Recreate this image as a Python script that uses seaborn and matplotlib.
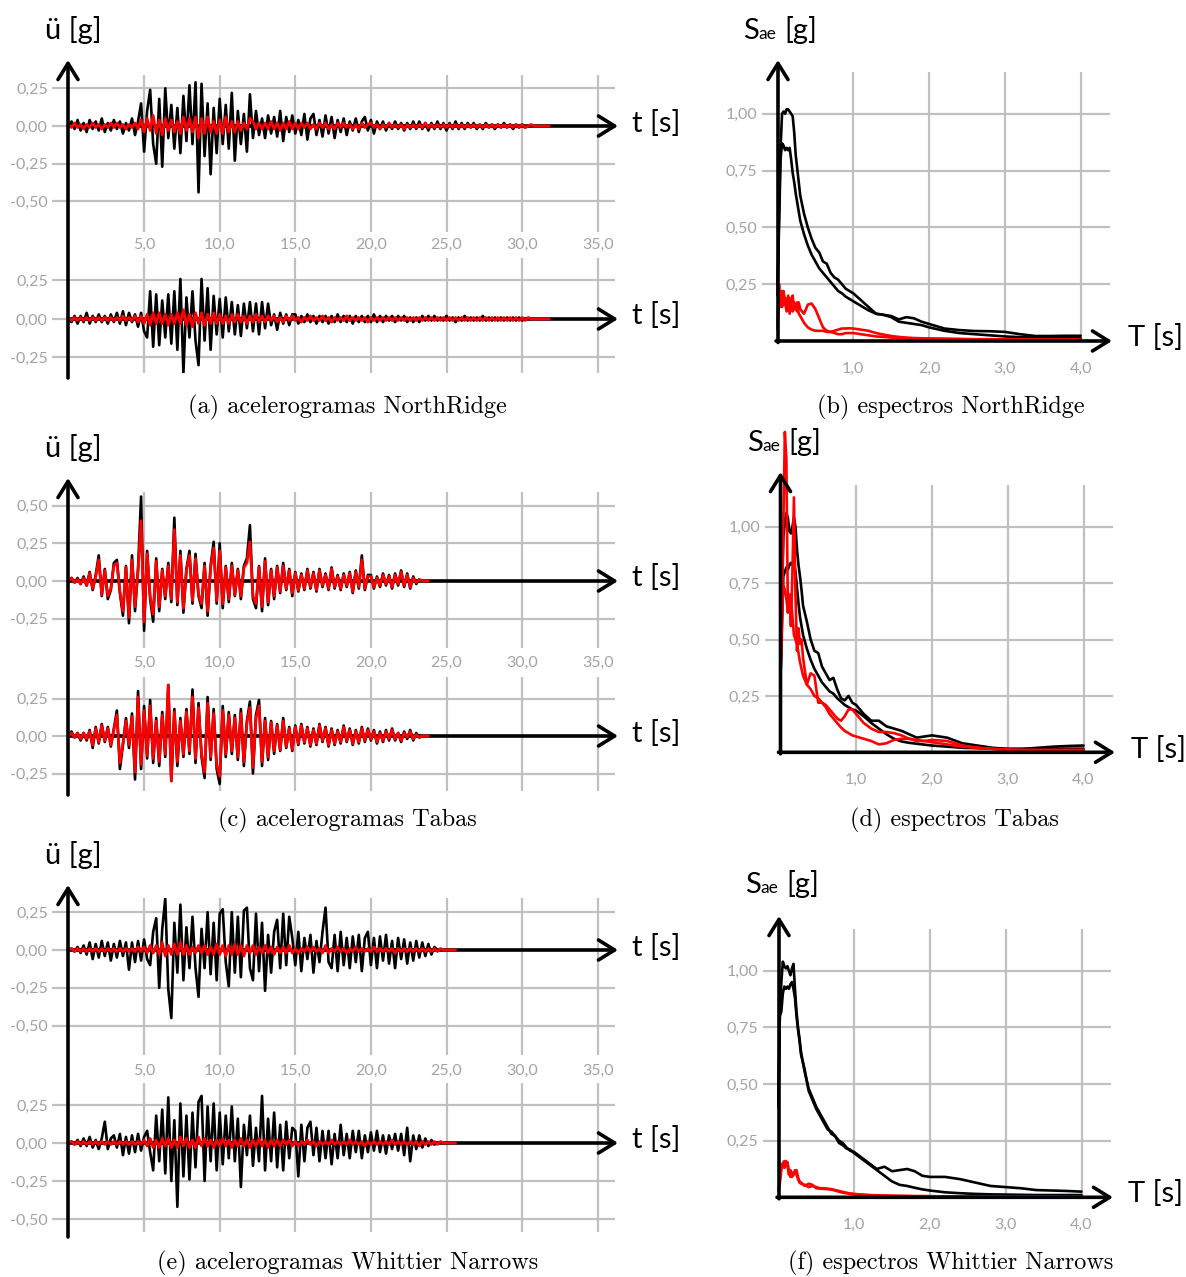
import numpy as np
import matplotlib
matplotlib.use("Agg")
import matplotlib.pyplot as plt
import seaborn as sns

W, H = 1186, 1277
DT = 0.2  # sampling step of the stored accelerograms [s]

# ---------------- accelerograms, values in 0.01 g ----------------
# NorthRidge, component 1 (recorded = black, simulated = red)
nr1_rec = [0, 3, -2, 4, -3, 2, -4, 4, -2, 3, -3, 5, -4, 2, -3, 4, -2, 3, -5, 2, -3, 5, -6, 3, 15,
           -17, 10, 24, -12, -25, 18, -27, 25, -8, 14, -15, 12, -18, 20, -10, 27, -12, 29, -44, 28,
           -20, 15, -32, 12, -18,
           18, -12, 14, -15, 22, -23, 10, -12, 8, -17, 21, -8, 10, -6, 5, -8, 7, -5, 6, -7, 10, -10, 6, -4, 7,
           -5, 4, -6, 8, -9, 5, 8, -6, 4, -7, 7, -5, 6, -8, 4, -4, 5, -6, 3, -3, 5, -4, 3, 6, -3,
           4, -5, 3, -2, 3, -3, 2, -2, 3, -2, 2, -3, 2, -2, 3, -2, 3, -2, 2, -3, 2, -2, 3, -2, 2,
           -3, 2, -2, 3, -2, 2, -2, 2, -1, 2, -2, 1, -2, 2, -1, 1, -2, 1, -1, 2, -1, 1, -2, 1, -1,
           1, -1, 0]
nr1_sim = [1, -1, 2, -1, 1, -2, 1, -1, 2, -1, 1, -2, 1, -1, 2, -1, 2, -1, 1, -2, 1, -1, 2, -2, 4,
           -4, 5, -3, 7, -5, 4, -6, 5, -3, 4, -4, 3, -5, 6, -3, 5, -4, 6, -8, 5, -5, 6, -4, 3, -5,
           4, -5, 6, -4, 3, -4, 3, -3, 2, -2, 5, 3, -2, 2, -2, 2, -2, 3, -2, 2, -3, 2, -2, 3, -2,
           2, -2, 2, -1, 2, -2, 1, -2, 2, -1, 2, -2, 1, -2, 2, -1, 2, -1, 1, -2, 1, -2, 2, -1, 1,
           2, -1, 1, -2, 1, -1, 2, -1, 1, -1, 1, -2, 1, -1, 1, -1, 1, -1, 2, -1, 1, -1, 1, -1, 1,
           -1, 1, -1, 1, -1, 1, -1, 1, -1, 1, -1, 1, -1, 1, -1, 1, -1, 1, -1, 1, -1, 1, -1, 1, -1,
           1, -1, 0, 1, 0, 0, 0, 0, 0, 0]
# NorthRidge, component 2
nr2_rec = [0, -2, 2, -3, 2, -2, 4, -3, 2, -2, 3, -2, 2, -3, 3, -2, 4, -3, 5, -4, 4, -2, 3, -5, 4,
           -8, -12, 18, -18, 16, -17, 12, -12, 16, -16, 18, -20, 26, -35, 14, -12, 18, -14, -30, 26,
           -14, 20, -20, 15, -10,
           13, -12, 14, -8, 11, -10, 9, -11, 10, -6, 11, -8, 10, -10, 11, -6, 10, -4, 3, -7, 4, -3, 3, -4, 3,
           3, -3, 2, -2, 3, -2, 2, -3, 2, -2, 2, -3, 2, -2, 3, -2, 2, -2, 2, -3, 2, -2, 2, -2, 2,
           -2, 3, -2, 2, -2, 2, -1, 2, -2, 2, -1, 2, -2, 1, -2, 1, -2, 2, -1, 2, -1, 2, -1, 1, -1,
           2, -1, 1, -2, 1, -1, 2, -1, 1, -1, 1, -1, 2, -1, 1, -1, 1, -1, 1, -1, 1, -1, 1, -1, 1,
           -1, 0]
nr2_sim = [1, -1, 1, -1, 1, -1, 1, -1, 1, -1, 1, -1, 1, -1, 1, -1, 1, -1, 2, -1, 1, -1, 2, -2, 2,
           -3, 3, -4, 4, -3, 4, -3, 3, -4, 3, -3, 4, -3, 6, -4, 3, -5, 4, -3, 4, -4, 3, -3, 4, -3,
           3, -3, 2, -3, 3, -2, 3, -2, 2, -3, 2, -2, 3, -2, 2, -2, 2, -1, 2, -2, 1, -2, 2, -1, 2,
           -1, 1, -2, 1, -1, 2, -1, 1, -1, 2, -1, 1, -2, 1, -1, 1, -1, 2, -1, 1, -1, 1, -1, 1, -2,
           1, -1, 1, -1, 1, -1, 1, -1, 1, -1, 1, -1, 1, -1, 1, -1, 1, -1, 1, -1, 1, -1, 1, -1, 1,
           -1, 1, -1, 1, -1, 1, -1, 1, -1, 1, -1, 1, -1, 1, -1, 1, -1, 1, -1, 1, -1, 1, -1, 1, -1,
           1, -1, 1, 0, 0, 0, 0, 0, 0, 0]

# Tabas
tb1_rec = [0, 2, -1, 2, -2, 3, -3, 6, -6, 4, 17, -10, 8, -12, -6, 12, 14, -8, -23, 10, -28, 17, -20, 8, 56,
           -33, 20, -12, -27, 15, -20, 8, -12, 12, -14, 42, -16, 20, -21, 8, 20, -15, 18, -10, -18,
           12, -23, 10, 26, -15,
           25, -18, 10, -14, 12, -10, 8, -12, 10, 15, 37, -12, -18, 10, -20, 15, -16, 8, -12, 10,
           -8, 12, -6, 8, -10,
           6, -7, 5, -6, 8, -5, 6, -7, 8, -4, 5, -6, 9, -5, 4, -6, 5, -4, 6, -8, 7, -5, 17, -6, 4,
           4, -5, 3, -4, 5, -3, 4, -5, 5, -3, 7, -4, 5, -5, 3, -2, 1, 0]
tb1_sim = [0, 2, -1, 1, -2, 2, -3, 5, -5, 3, 14, -9, 7, -10, -5, 10, 12, -7, -20, 9, -24, 14, -17, 7, 40,
           -27, 18, -10, -22, 13, -17, 7, -10, 10, -12, 34, -14, 17, -18, 7, 17, -13, 15, -9, -15,
           10, -20, 9, 22, -13,
           20, -15, 9, -12, 10, -9, 7, -10, 9, 12, 26, -10, -15, 9, -17, 13, -14, 7, -10, 9,
           -7, 10, -5, 7, -8,
           5, -6, 4, -5, 7, -4, 5, -6, 7, -3, 4, -5, 8, -4, 3, -5, 4, -3, 5, -7, 6, -4, 14, -5, 3,
           3, -4, 2, -3, 4, -2, 3, -4, 4, -2, 6, -3, 4, -4, 2, -1, 1, 0, 0, 0]
tb2_rec = [0, 3, -1, 2, -3, 2, -3, 4, -8, 6, -5, 8, -4, 6, -7, 5, 17, -22, -6, 12, -8, 15, -29, 30, -22,
           20, -15, 24, -18, 12, -20, 16, -14, 34, -30, 18, -20, 12, -14, 18, -12, 31, -18, 22, -14,
           -28, 26, -16, 18, -22,
           -32, 20, -14, 16, -12, 14, -16, 18, -20, 10, 23, -25, 14, 24, -20, 12, -16, 10, -12, 8,
           -10, 12, -8, 6, -10,
           7, -6, 8, -5, 6, -7, 5, -6, 8, -4, 6, -7, 5, -6, 4, -5, 7, -4, 5, -6, 4, -5, 6, -4, 5,
           -3, 4, -5, 3, -4, 4, -3, 5, -3, 2, -4, 3, -2, 4, -3, 2, -1, 0]
tb2_sim = [0, 2, -1, 2, -2, 2, -2, 3, -6, 5, -4, 7, -3, 5, -6, 4, 14, -18, -5, 10, -6, 13, -24, 26, -19,
           17, -13, 20, -15, 10, -17, 14, -12, 34, -30, 16, -17, 10, -12, 16, -10, 26, -15, 19, -12,
           -24, 22, -14, 15, -19,
           -27, 17, -12, 14, -10, 12, -14, 15, -17, 9, 19, -21, 12, 20, -17, 10, -14, 9, -10, 7,
           -9, 10, -7, 5, -9,
           6, -5, 7, -4, 5, -6, 4, -5, 7, -3, 5, -6, 4, -5, 3, -4, 6, -3, 4, -5, 3, -4, 5, -3, 4,
           -2, 3, -4, 2, -3, 3, -2, 4, -2, 2, -3, 2, -1, 3, -2, 1, -1, 0, 0, 0]

# Whittier Narrows
wn1_rec = [0, 1, -1, 2, -2, 3, -3, 5, -6, 4, -5, 6, -4, 5, -7, 4, -5, 6, -4, 5, -13, 5, -8, 6, -7,
           7, -6, -10, 12, 21, -25, 14, 34, -26, -45, 18, -15, 30, -20, 15, -12, 22, -12, -31, 14,
           -12, 25, -16, 18, -20,
           24, 27, -8, -24, 25, -15, 22, -18, 26, 28, -12, -20, 24, -14, 18, -27, 10, -15, 12, 20,
           -12, 24, -10, 22, 8,
           -10, 12, -14, 8, -6, 10, -15, 6, -8, 12, 28, -8, -12, 10, -14, 12, -10, 8, -12, 9,
           -8, 10, -14, 8, 12,
           -10, 8, -12, 9, -7, 10, -9, 6, -12, 8, -6, 7, -9, 5, -7, 6, -5, 5, -4, 4, -3, 2, 0]
wn1_sim = [0, 1, -1, 1, -1, 1, -1, 1, -1, 1, -1, 1, -1, 1, -1, 1, -1, 1, -1, 1, -1, 1, -1, 2, -1,
           2, -2, 3, -2, 3, -3, 5, -4, 3, -3, 4, -3, 5, -3, 3, -3, 2, -2, 3, -2, 3, -3, 2, -3, 4,
           -3, 3, -4, 3, -3, 4, -3, 3, -4, 3, -2, 3, -3, 2, -2, 3, -2, 2, -3, 2, -2, 2, -2, 3, -2,
           1, -2, 1, -1, 2, -1, 2, -1, 1, -2, 3, -2, 1, -1, 2, -1, 1, -2, 1, -1, 2, -1, 1, -1, 1,
           -1, 2, -1, 1, -1, 1, -1, 1, -2, 1, -1, 1, -1, 1, -1, 1, -1, 1, -1, 1, -1, 1, -1, 1, 0,
           0, 0, 0, 0]
wn2_rec = [0, 1, -1, 2, -2, 3, -2, 4, -3, 2, -4, 3, 14, -4, 3, 5, -3, 6, -8, 4, -7, 5, -6, 6, -5,
           4, 8, -6, -18, 18, -12, 22, -20, 30, -25, 15, -42, 26, -22, 18, -24, 20, -16, 27, 31,
           -25, 24, -12, 26, -18,
           20, -14, 18, -10, 24, -12, 16, -29, 12, -8, 18, -15, 10, -12, 31, -18, 16, -12, 20, -16,
           12, -18, 14, -10, 10,
           8, -22, 12, -12, 10, 14, -8, 10, -12, 8, -10, 8, -14, 6, -10, 12, -8, 6, -10, 8,
           -6, 8, -10, 5, -6,
           7, -5, 8, -6, 5, -7, 5, -4, 6, -5, 6, -8, 10, -12, 5, -4, 5, -3, 3, -2, 2, -1, 0]
wn2_sim = [0, 1, -1, 1, -1, 1, -1, 1, -1, 1, -1, 1, -1, 1, -1, 1, -1, 1, -1, 1, -1, 1, -1, 1, -1,
           2, -2, 3, -3, 2, -3, 3, -2, 3, -3, 2, -3, 4, -2, 3, -3, 2, -3, 4, -2, 3, -2, 2, -3, 2,
           -2, 3, -2, 2, -3, 2, -2, 3, -2, 2, -3, 2, -2, 3, -2, 2, -3, 2, -2, 2, -2, 2, -1, 2, -2,
           1, -2, 1, -1, 2, -1, 1, -2, 1, -1, 1, -1, 2, -1, 1, -1, 1, -1, 2, -1, 1, -1, 1, -2, 1,
           -1, 1, -1, 1, -1, 1, -1, 2, -1, 1, -1, 1, -1, 1, -1, 1, -2, 1, -1, 1, -1, 1, -1, 1, 0,
           0, 0, 0, 0]

# ---------------- response spectra, Sae [g] ----------------
periods = [0, .02, .04, .06, .08, .10, .12, .14, .16, .18, .20, .22, .24, .26, .28, .30,
           .35, .40, .45, .50, .55, .60, .65, .70, .75, .80, .85, .90, .95, 1.0,
           1.1, 1.2, 1.3, 1.4, 1.5, 1.6, 1.7, 1.8, 1.9, 2.0,
           2.2, 2.4, 2.6, 2.8, 3.0, 3.2, 3.4, 3.6, 3.8, 4.0]

nr_sa_rec1 = [0.25, 0.55, 0.85, 1.00, 1.01, 1.00, 1.02, 1.02, 1.01, 1.00, 0.99, 0.92, 0.82, 0.76, 0.70, 0.64,
              0.56, 0.50, 0.45, 0.41, 0.39, 0.35, 0.34, 0.30, 0.28, 0.27, 0.25, 0.23, 0.22, 0.21,
              0.18, 0.15, 0.12, 0.115, 0.11, 0.095, 0.105, 0.10, 0.085, 0.075,
              0.055, 0.048, 0.044, 0.043, 0.040, 0.030, 0.022, 0.022, 0.023, 0.023]
nr_sa_rec2 = [0.20, 0.50, 0.80, 0.87, 0.86, 0.84, 0.85, 0.84, 0.85, 0.80, 0.74, 0.70, 0.65, 0.61, 0.57, 0.53,
              0.47, 0.42, 0.38, 0.35, 0.32, 0.30, 0.28, 0.26, 0.24, 0.22, 0.21, 0.195, 0.185, 0.175,
              0.155, 0.135, 0.12, 0.115, 0.105, 0.085, 0.08, 0.075, 0.07, 0.06,
              0.045, 0.035, 0.03, 0.025, 0.02, 0.017, 0.015, 0.013, 0.012, 0.012]
nr_sa_sim1 = [0.08, 0.25, 0.15, 0.22, 0.16, 0.19, 0.14, 0.20, 0.12, 0.18, 0.20, 0.14, 0.16, 0.17, 0.12, 0.11,
              0.08, 0.06, 0.05, 0.045, 0.045, 0.045, 0.04, 0.04, 0.035, 0.03, 0.03, 0.035, 0.035, 0.035,
              0.03, 0.025, 0.02, 0.018, 0.015, 0.013, 0.012, 0.011, 0.01, 0.01,
              0.009, 0.008, 0.007, 0.007, 0.006, 0.006, 0.005, 0.005, 0.005, 0.005]
nr_sa_sim2 = [0.05, 0.18, 0.20, 0.15, 0.22, 0.17, 0.13, 0.18, 0.19, 0.15, 0.13, 0.17, 0.14, 0.13, 0.17, 0.14,
              0.12, 0.16, 0.165, 0.14, 0.10, 0.06, 0.045, 0.04, 0.045, 0.05, 0.055, 0.055, 0.056, 0.055,
              0.05, 0.045, 0.035, 0.028, 0.022, 0.018, 0.015, 0.013, 0.012, 0.011,
              0.01, 0.009, 0.008, 0.008, 0.007, 0.007, 0.006, 0.006, 0.006, 0.006]

tb_sa_rec1 = [0.30, 0.70, 0.95, 1.02, 1.06, 1.04, 0.98, 0.97, 1.00, 1.04, 1.00, 0.90, 0.83, 0.78, 0.72, 0.65,
              0.58, 0.50, 0.45, 0.44, 0.38, 0.35, 0.32, 0.33, 0.28, 0.24, 0.23, 0.25, 0.22, 0.21,
              0.17, 0.14, 0.14, 0.115, 0.105, 0.095, 0.08, 0.065, 0.07, 0.075,
              0.065, 0.04, 0.03, 0.02, 0.015, 0.015, 0.02, 0.025, 0.028, 0.03]
tb_sa_rec2 = [0.30, 0.55, 0.78, 0.80, 0.82, 0.81, 0.83, 0.84, 0.83, 0.84, 0.80, 0.73, 0.66, 0.60, 0.56, 0.52,
              0.46, 0.41, 0.37, 0.34, 0.31, 0.29, 0.27, 0.26, 0.24, 0.225, 0.21, 0.20, 0.19, 0.185,
              0.16, 0.13, 0.105, 0.08, 0.06, 0.048, 0.042, 0.038, 0.034, 0.03,
              0.025, 0.02, 0.018, 0.016, 0.015, 0.015, 0.015, 0.016, 0.016, 0.016]
tb_sa_sim1 = [0.30, 0.50, 1.00, 1.42, 1.30, 0.62, 0.70, 0.56, 0.80, 1.13, 0.70, 0.45, 0.55, 0.48, 0.50, 0.42,
              0.30, 0.35, 0.34, 0.22, 0.22, 0.21, 0.19, 0.17, 0.15, 0.14, 0.16, 0.19, 0.19, 0.17,
              0.13, 0.105, 0.09, 0.09, 0.085, 0.075, 0.06, 0.05, 0.05, 0.055,
              0.05, 0.03, 0.02, 0.015, 0.012, 0.01, 0.01, 0.01, 0.01, 0.01]
tb_sa_sim2 = [0.30, 0.60, 0.74, 0.72, 0.68, 0.62, 0.66, 0.68, 0.60, 0.52, 0.50, 0.48, 0.44, 0.40, 0.37, 0.34,
              0.30, 0.28, 0.25, 0.24, 0.22, 0.20, 0.17, 0.15, 0.13, 0.11, 0.095, 0.085, 0.075, 0.07,
              0.06, 0.05, 0.035, 0.04, 0.055, 0.06, 0.06, 0.055, 0.05, 0.045,
              0.035, 0.025, 0.02, 0.015, 0.012, 0.01, 0.01, 0.01, 0.01, 0.01]

wn_sa_rec1 = [0.40, 0.80, 0.95, 1.04, 1.02, 1.01, 1.02, 1.00, 0.98, 1.01, 1.03, 0.92, 0.82, 0.75, 0.70, 0.64,
              0.55, 0.48, 0.44, 0.40, 0.37, 0.34, 0.31, 0.28, 0.27, 0.25, 0.24, 0.22, 0.205, 0.20,
              0.175, 0.15, 0.125, 0.135, 0.115, 0.12, 0.125, 0.115, 0.095, 0.09,
              0.09, 0.08, 0.065, 0.05, 0.045, 0.04, 0.032, 0.03, 0.028, 0.025]
wn_sa_rec2 = [0.40, 0.80, 0.82, 0.90, 0.93, 0.92, 0.93, 0.92, 0.94, 0.95, 0.92, 0.88, 0.80, 0.74, 0.69, 0.63,
              0.56, 0.47, 0.43, 0.39, 0.36, 0.33, 0.30, 0.29, 0.27, 0.24, 0.23, 0.215, 0.21, 0.195,
              0.17, 0.145, 0.12, 0.095, 0.07, 0.055, 0.05, 0.042, 0.035, 0.03,
              0.022, 0.018, 0.015, 0.013, 0.012, 0.011, 0.01, 0.01, 0.01, 0.01]
wn_sa_sim1 = [0.03, 0.08, 0.14, 0.15, 0.16, 0.14, 0.155, 0.12, 0.09, 0.11, 0.10, 0.11, 0.12, 0.09, 0.07, 0.065,
              0.05, 0.06, 0.055, 0.04, 0.038, 0.037, 0.036, 0.034, 0.03, 0.025, 0.02, 0.018, 0.015, 0.013,
              0.011, 0.009, 0.008, 0.007, 0.006, 0.006, 0.005, 0.005, 0.005, 0.004,
              0.004, 0.004, 0.003, 0.003, 0.003, 0.003, 0.003, 0.002, 0.002, 0.002]
wn_sa_sim2 = [0.03, 0.06, 0.12, 0.15, 0.13, 0.16, 0.14, 0.10, 0.12, 0.09, 0.10, 0.12, 0.10, 0.08, 0.065, 0.06,
              0.055, 0.045, 0.05, 0.045, 0.04, 0.04, 0.038, 0.036, 0.032, 0.028, 0.024, 0.02, 0.017, 0.015,
              0.012, 0.01, 0.009, 0.008, 0.007, 0.006, 0.006, 0.005, 0.005, 0.005,
              0.004, 0.004, 0.004, 0.003, 0.003, 0.003, 0.003, 0.003, 0.002, 0.002]

t_ticks = [5, 10, 15, 20, 25, 30, 35]
t_ticklabels = ["5,0", "10,0", "15,0", "20,0", "25,0", "30,0", "35,0"]
T_ticks = [1, 2, 3, 4]
T_ticklabels = ["1,0", "2,0", "3,0", "4,0"]
sa_ticks = [0.25, 0.50, 0.75, 1.00]
sa_ticklabels = ["0,25", "0,50", "0,75", "1,00"]
captions = ["(a) acelerogramas NorthRidge", "(b) espectros NorthRidge",
            "(c) acelerogramas Tabas", "(d) espectros Tabas",
            "(e) acelerogramas Whittier Narrows", "(f) espectros Whittier Narrows"]

# ---------------- style ----------------
sns.set_theme(style="white")
plt.rcParams["font.family"] = ["Lato", "DejaVu Sans"]
GRID = "#c0c0c0"
TICK = "#a3a3a3"
RED = "#ff0000"

fig = plt.figure(figsize=(W / 100, H / 100), dpi=100)
fig.patch.set_facecolor("white")


def px_axes(left, top, right, bottom):
    return fig.add_axes([left / W, 1 - bottom / H, (right - left) / W, (bottom - top) / H])


def style_axes(ax, xpad, ypad):
    for s in ax.spines.values():
        s.set_visible(False)
    ax.set_facecolor("none")
    ax.grid(True, color=GRID, lw=1.6)
    ax.set_axisbelow(True)
    ax.tick_params(length=0, labelsize=11.5, labelcolor=TICK)
    ax.tick_params(axis="x", pad=xpad)
    ax.tick_params(axis="y", pad=ypad)
    ax.set_xlabel("")
    ax.set_ylabel("")


# time axis geometry shared by the accelerograms
T0_PX, PX_PER_S = 68.5, 15.12
GL, GR = 52, 615
T_TIP = (618 - T0_PX) / PX_PER_S


def trace(top, bottom, zero_px, px_q, yt, rec, sim, tick_labels_px=None):
    ax = px_axes(GL, top, GR, bottom)
    k = 0.25 / px_q
    ax.set_xlim((GL - T0_PX) / PX_PER_S, (GR - T0_PX) / PX_PER_S)
    ax.set_ylim(-(bottom - zero_px) * k, (zero_px - top) * k)
    # time axis drawn beneath the records
    ax.annotate("", xy=(T_TIP, 0), xytext=(0, 0), xycoords="data",
                arrowprops=dict(arrowstyle="->,head_length=0.58,head_width=0.36", lw=2.6,
                                color="black", shrinkA=0, shrinkB=0, mutation_scale=20),
                annotation_clip=False, zorder=1.5)
    t_rec = np.arange(len(rec)) * DT
    t_sim = np.arange(len(sim)) * DT
    sns.lineplot(x=t_rec, y=np.array(rec) / 100.0, ax=ax, color="black", lw=1.9,
                 estimator=None, sort=False, zorder=2)
    sns.lineplot(x=t_sim, y=np.array(sim) / 100.0, ax=ax, color=RED, lw=2.0,
                 estimator=None, sort=False, zorder=3)
    ax.set_xticks(t_ticks)
    ax.set_yticks(yt)
    ax.set_yticklabels([("%.2f" % v).replace(".", ",") for v in yt])
    if tick_labels_px is not None:
        ax.set_xticklabels(t_ticklabels)
        xpad = (tick_labels_px - bottom - 6) * 0.72
    else:
        ax.set_xticklabels([])
        xpad = 2
    style_axes(ax, xpad, 3)
    return ax


def spectrum(left, right, top, x0_px, y0_px, px_q, curves):
    ax = px_axes(left, top, right, y0_px)
    ax.set_xlim((left - x0_px) / 75.8, (right - x0_px) / 75.8)
    ax.set_ylim(0, (y0_px - top) / px_q * 0.25)
    for vals, col in curves:
        sns.lineplot(x=periods, y=vals, ax=ax, color=col, lw=1.9, estimator=None, sort=False)
    for ln in ax.lines:
        ln.set_clip_on(False)
    ax.set_xticks(T_ticks)
    ax.set_xticklabels(T_ticklabels)
    ax.set_yticks(sa_ticks)
    ax.set_yticklabels(sa_ticklabels)
    style_axes(ax, (368 - 341 - 6) * 0.72, 3.6)
    return ax


# accelerograms
trace(75, 232, 126, 37.7, [0.25, 0.0, -0.25, -0.5], nr1_rec, nr1_sim, tick_labels_px=244)
trace(258, 373, 319, 38.5, [0.25, 0.0, -0.25], nr2_rec, nr2_sim)
trace(492, 648, 581, 37.7, [0.5, 0.25, 0.0, -0.25], tb1_rec, tb1_sim, tick_labels_px=662)
trace(677, 791, 736, 37.5, [0.25, 0.0, -0.25], tb2_rec, tb2_sim)
trace(898, 1055, 950, 37.8, [0.25, 0.0, -0.25, -0.5], wn1_rec, wn1_sim, tick_labels_px=1070)
trace(1083, 1232, 1143, 38.0, [0.25, 0.0, -0.25, -0.5], wn2_rec, wn2_sim)

# spectra
spectrum(762, 1110, 72, 777.5, 341, 56.8,
         [(nr_sa_rec1, "black"), (nr_sa_rec2, "black"), (nr_sa_sim1, RED), (nr_sa_sim2, RED)])
spectrum(765, 1113, 485, 780.3, 752.3, 56.4,
         [(tb_sa_rec1, "black"), (tb_sa_rec2, "black"), (tb_sa_sim1, RED), (tb_sa_sim2, RED)])
spectrum(763, 1111, 929, 778.3, 1197.3, 56.65,
         [(wn_sa_rec1, "black"), (wn_sa_rec2, "black"), (wn_sa_sim1, RED), (wn_sa_sim2, RED)])

# overlay in pixel units for the axis arrows and labels
ov = fig.add_axes([0, 0, 1, 1], zorder=10)
ov.set_xlim(0, W)
ov.set_ylim(H, 0)
ov.axis("off")
ov.patch.set_alpha(0)

arrow_kw = dict(arrowstyle="->,head_length=0.58,head_width=0.36", lw=2.6, color="black",
                shrinkA=0, shrinkB=0, mutation_scale=20)


def arrow(x0, y0, x1, y1):
    ov.annotate("", xy=(x1, y1), xytext=(x0, y0), arrowprops=arrow_kw)


for yb, yt_ in [(378, 60), (795, 478), (1237, 885)]:
    arrow(68, yb, 68, yt_)
for xa, ya, tipy, tipx in [(778, 341, 60, 1112), (780.5, 752.3, 472, 1115), (779, 1197.3, 916, 1113)]:
    arrow(xa, ya + 1.5, xa, tipy)
    arrow(xa - 2, ya, tipx, ya)

LAB = 21
for yb in [39, 457, 864]:
    ov.text(45, yb, "ü [g]", fontsize=LAB, ha="left", va="baseline", color="black")
for yc in [123, 316, 578, 733, 947, 1140]:
    ov.text(632, yc, "t [s]", fontsize=LAB, ha="left", va="center", color="black")
for x, yc in [(1128, 337), (1131, 749), (1128, 1193)]:
    ov.text(x, yc, "T [s]", fontsize=LAB, ha="left", va="center", color="black")
for x, yb in [(743, 39), (747, 451), (745, 893)]:
    ov.text(x, yb, "S", fontsize=LAB, ha="left", va="baseline", color="black")
    ov.text(x + 15, yb, "ae", fontsize=12.5, ha="left", va="baseline", color="black")
    ov.text(x + 41, yb, "[g]", fontsize=LAB, ha="left", va="baseline", color="black")

for (x, y), cap in zip([(347, 407), (951, 407), (347, 820), (954, 820), (348, 1263), (951, 1263)],
                       captions):
    ov.text(x, y, cap, fontsize=17.5, family="cmr10", ha="center", va="center", color="black")

fig.savefig("out.png", dpi=100, facecolor="white")
